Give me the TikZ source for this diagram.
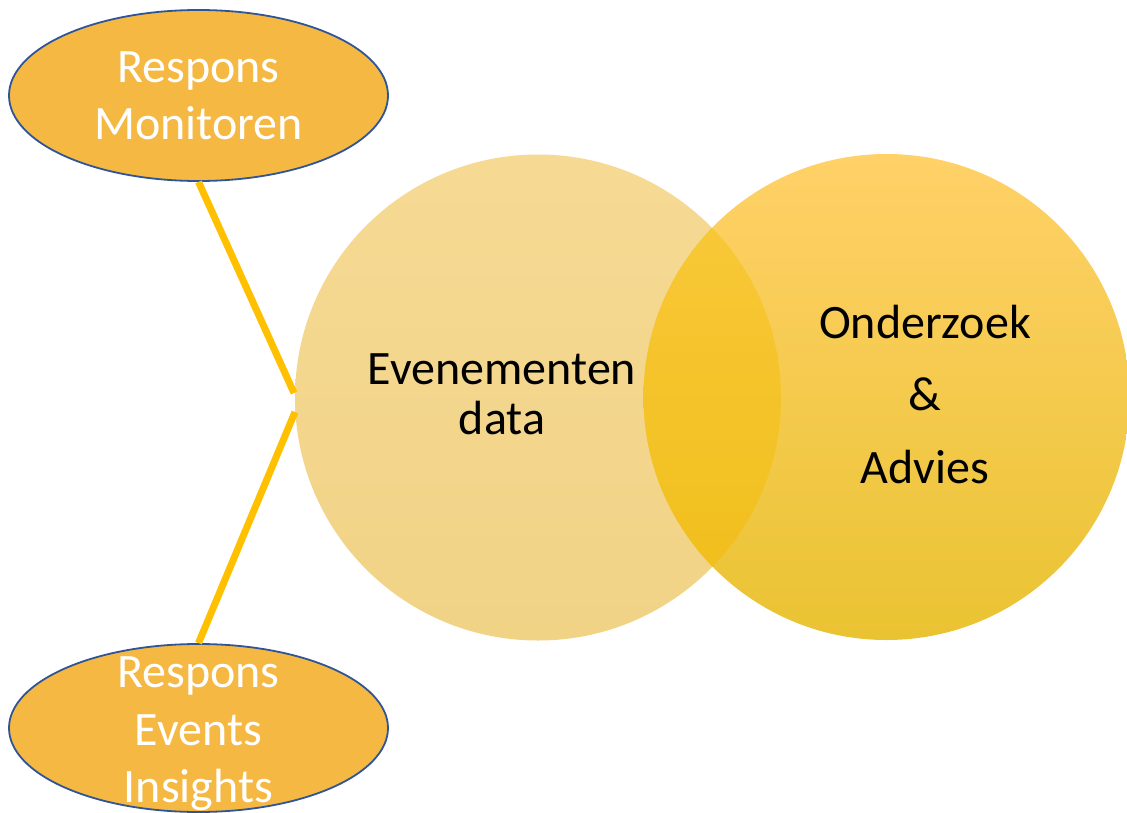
\documentclass[tikz,border=0pt]{standalone}
\usepackage{fontspec}
\setmainfont{Carlito}
\usetikzlibrary{shapes.geometric}
\definecolor{ellfill}{HTML}{F5B843}
\definecolor{elldraw}{HTML}{2F5597}
\definecolor{linkcol}{HTML}{FFC000}
\definecolor{ltop}{HTML}{F6DA94}
\definecolor{lbot}{HTML}{F1D386}
\definecolor{rtop}{HTML}{FFD168}
\definecolor{rmid}{HTML}{FDD23A}
\definecolor{rbot}{HTML}{EAC332}
\definecolor{itop}{HTML}{FAC93C}
\definecolor{imid}{HTML}{FBC618}
\definecolor{ibot}{HTML}{EFBE18}
\tikzset{
  x=1pt, y=1pt,
  ellbox/.style={ellipse, draw=elldraw, line width=1.8pt, fill=ellfill, minimum width=379pt, minimum height=171pt, inner sep=0pt},
  bigcirc/.style={circle, minimum size=486pt, inner sep=0pt},
  link/.style={draw=linkcol, line width=7pt},
  wtxt/.style={text=white, font=\fontsize{48}{57}\selectfont, anchor=base, inner sep=0pt},
  btxt/.style={text=black, font=\fontsize{48}{57}\selectfont, anchor=base, inner sep=0pt},
}
\begin{document}
\begin{tikzpicture}
\useasboundingbox (0,0) rectangle (1127,-813);
% circles
\node[bigcirc, top color=ltop, bottom color=lbot] (L) at (538,-397.5) {};
\node[bigcirc, top color=rtop, middle color=rmid, bottom color=rbot] (R) at (886.5,-397) {};
\begin{scope}
  \clip (L.center) circle (243);
  \shade[top color=itop, middle color=imid, bottom color=ibot] (R.center) circle (243);
\end{scope}
% ellipses
\node[ellbox] (mon) at (198.5,-95.5) {};
\node[ellbox, minimum height=168pt] (ins) at (198.5,-728) {};
% connectors
\coordinate (j1) at (294,-393);
\coordinate (j2) at (295,-412);
\draw[link] (mon.south) -- (j1);
\draw[link] (j2) -- (ins.north);
% texts
\node[wtxt] (t1) at (198.5,-83) {Respons};
\node[wtxt] (t2) at (198.5,-140) {Monitoren};
\node[wtxt] (t3) at (198.5,-687) {Respons};
\node[wtxt] (t4) at (198.5,-745) {Events};
\node[wtxt] (t5) at (198.5,-802) {Insights};
\node[btxt] (t6) at (502,-384) {Evenementen};
\node[btxt] (t7) at (502,-434) {data};
\node[btxt] (t8) at (925,-338) {Onderzoek};
\node[btxt] (t9) at (925,-410) {\&};
\node[btxt] (t10) at (925,-483) {Advies};
\end{tikzpicture}
\end{document}
